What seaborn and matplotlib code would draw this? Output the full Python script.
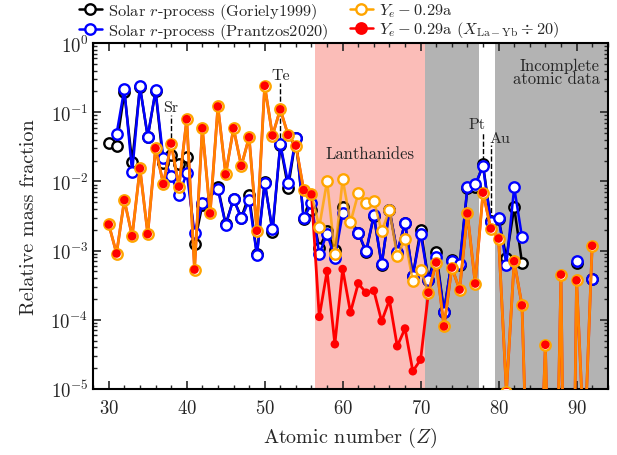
import numpy as np
import pandas as pd
import matplotlib
matplotlib.use("Agg")
import matplotlib.pyplot as plt
import seaborn as sns
from matplotlib.lines import Line2D
from matplotlib.ticker import MultipleLocator, LogLocator, NullFormatter

# Solar r-process (Goriely1999)
z_gor = [30, 31, 32, 33, 34, 35, 36, 37, 38, 39, 40, 41, 42, 44, 45, 46, 47, 48, 49, 50,
         51, 52, 53, 54, 55, 56, 57, 58, 59, 60, 62, 63, 64, 65, 66, 67, 68, 69, 70, 71,
         72, 73, 74, 75, 76, 77, 78, 79, 80, 81, 82, 83, 90, 92]
x_gor = [0.0356, 0.0329, 0.193, 0.0189, 0.23, 0.044, 0.20, 0.0182, 0.0241, 0.0176,
         0.0228, 0.00126, 0.0046, 0.0082, 0.0024, 0.0056, 0.003, 0.0063, 0.00088, 0.0099,
         0.00185, 0.034, 0.0081, 0.042, 0.0029, 0.0038, 0.00109, 0.0019, 0.00101, 0.0043,
         0.00182, 0.00094, 0.0032, 0.00062, 0.0039, 0.00093, 0.0025, 0.00043, 0.00201, 0.00038,
         0.00094, 0.000129, 0.00072, 0.00061, 0.0080, 0.0084, 0.0176, 0.00265, 0.00285, 0.00078,
         0.0042, 0.00067, 0.00067, 0.00039]

# Solar r-process (Prantzos2020)
z_pra = [31, 32, 33, 34, 35, 36, 37, 38, 39, 40, 41, 42, 44, 45, 46, 47, 48, 49, 50,
         51, 52, 53, 54, 55, 56, 57, 58, 59, 60, 62, 63, 64, 65, 66, 67, 68, 69, 70, 71,
         72, 73, 74, 75, 76, 77, 78, 79, 80, 81, 82, 83, 90, 92]
x_pra = [0.0485, 0.218, 0.0135, 0.236, 0.0444, 0.206, 0.0216, 0.0121, 0.00634, 0.0131,
         0.0018, 0.0048, 0.00766, 0.00233, 0.00555, 0.00291, 0.00536, 0.000856, 0.00935,
         0.00202, 0.0344, 0.00957, 0.043, 0.00291, 0.0048, 0.000885, 0.00176, 0.00078, 0.00344,
         0.00182, 0.00098, 0.00325, 0.000634, 0.00384, 0.00096, 0.00252, 0.000425, 0.00176, 0.00037,
         0.00081, 0.000129, 0.00071, 0.000634, 0.00818, 0.00905, 0.0165, 0.0026, 0.00291, 0.000626,
         0.00818, 0.00158, 0.00071, 0.000393]

# Ye - 0.29a model
z_mod = list(range(30, 93))
x_mod = [0.00238, 0.000905, 0.00536, 0.00161, 0.0154, 0.00173, 0.0301, 0.00914, 0.0352, 0.00838,
         0.0792, 0.00053, 0.0586, 0.00344, 0.121, 0.0126, 0.0586, 0.0167, 0.0434, 0.00193,
         0.241, 0.0459, 0.110, 0.0469, 0.0329, 0.00748, 0.00648, 0.0022, 0.0101, 0.000885,
         0.0108, 0.00255, 0.0067, 0.00491, 0.00525, 0.0019, 0.00384, 0.000828, 0.00149, 0.00036,
         0.00053, 0.000246, 0.00067, 0.00008, 0.000567, 0.000272, 0.00344, 0.000333, 0.00686, 0.00208,
         0.00149, 9e-6, 0.0007, 0.000161, 3e-8, 3e-8, 4.34e-5, 1e-9, 0.000449, 1e-12,
         0.000371, 1.3e-6, 0.00117]

# lanthanides La (57) - Yb (70) divided by 20
z_mod_arr = np.array(z_mod)
x_mod20 = np.array(x_mod, dtype=float)
lan = (z_mod_arr >= 57) & (z_mod_arr <= 70)
x_mod20[lan] = x_mod20[lan] / 20.0

labels = [r"Solar $r$-process (Goriely1999)", r"Solar $r$-process (Prantzos2020)",
          r"$Y_e-0.29$a", r"$Y_e-0.29$a ($X_{\rm La-Yb}\div 20$)"]

sns.set_style("ticks")
plt.rcParams['font.family'] = 'serif'
plt.rcParams['font.serif'] = ['cmr10', 'DejaVu Serif']
plt.rcParams['mathtext.fontset'] = 'cm'
plt.rcParams['axes.formatter.use_mathtext'] = True

fig = plt.figure(figsize=(6.17, 4.56), dpi=100)
ax = fig.add_axes([0.151, 0.145, 0.834, 0.7585])

ax.axvspan(56.5, 70.5, color='#fbbdb8', lw=0, zorder=0)
ax.axvspan(70.5, 77.5, color='#b3b3b3', lw=0, zorder=0)
ax.axvspan(79.5, 95, color='#b3b3b3', lw=0, zorder=0)

df_gor = pd.DataFrame({'Z': z_gor, 'X': x_gor})
df_gor['seg'] = np.where(df_gor['Z'] <= 83, 0, df_gor['Z'])
df_pra = pd.DataFrame({'Z': z_pra, 'X': x_pra})
df_pra['seg'] = np.where(df_pra['Z'] <= 83, 0, df_pra['Z'])
df_mod = pd.DataFrame({'Z': z_mod, 'X': x_mod, 'X20': x_mod20})

ms = 7.5
mew = 1.7
sns.lineplot(data=df_gor, x='Z', y='X', units='seg', estimator=None, color='k',
             marker='o', markerfacecolor='white', markeredgecolor='k', markersize=ms,
             markeredgewidth=mew, lw=1.8, zorder=3, ax=ax, legend=False)
sns.lineplot(data=df_pra, x='Z', y='X', units='seg', estimator=None, color='#0000ff',
             marker='o', markerfacecolor='white', markeredgecolor='#0000ff', markersize=ms,
             markeredgewidth=mew, lw=1.8, zorder=4, ax=ax, legend=False)
sns.lineplot(data=df_mod, x='Z', y='X20', estimator=None, color='red', lw=2,
             zorder=5, ax=ax, legend=False)
sns.lineplot(data=df_mod, x='Z', y='X', estimator=None, color='orange', alpha=0.8,
             lw=1.9, zorder=6, ax=ax, legend=False)
sns.lineplot(data=df_mod, x='Z', y='X', estimator=None, color='orange', lw=0,
             marker='o', markerfacecolor='white', markeredgecolor='orange', markersize=ms,
             markeredgewidth=mew, zorder=7, ax=ax, legend=False)
sns.scatterplot(data=df_mod, x='Z', y='X20', color='red', s=38, edgecolor='none',
                zorder=8, ax=ax, legend=False)

ax.set_yscale('log')
ax.set_xlim(28, 94)
ax.set_ylim(1e-5, 1)

# element labels
ax.plot([38, 38], [0.042, 0.09], ls='--', color='k', lw=1, zorder=2)
ax.text(38, 0.095, 'Sr', ha='center', va='bottom', fontsize=11.5)
ax.plot([52, 52], [0.042, 0.26], ls='--', color='k', lw=1, zorder=2)
ax.text(52, 0.27, 'Te', ha='center', va='bottom', fontsize=11.5)
ax.plot([78, 78], [0.0195, 0.052], ls='--', color='k', lw=1, zorder=2)
ax.text(77.2, 0.053, 'Pt', ha='center', va='bottom', fontsize=11.5)
ax.plot([79, 79], [0.0028, 0.033], ls='--', color='k', lw=1, zorder=2)
ax.text(78.8, 0.034, 'Au', ha='left', va='bottom', fontsize=11.5)

ax.text(63.5, 0.0255, 'Lanthanides', ha='center', va='center', fontsize=12)
ax.text(93.0, 0.62, 'Incomplete\natomic data', ha='right', va='top', fontsize=12,
        multialignment='right', linespacing=0.85)

ax.set_xlabel(r'Atomic number ($Z$)', fontsize=14.5, labelpad=6)
ax.set_ylabel('Relative mass fraction', fontsize=14.5, labelpad=9)
ax.xaxis.set_major_locator(MultipleLocator(10))
ax.xaxis.set_minor_locator(MultipleLocator(2))
ax.yaxis.set_major_locator(LogLocator(base=10, numticks=10))
ax.yaxis.set_minor_locator(LogLocator(base=10, subs=np.arange(2, 10), numticks=20))
ax.yaxis.set_minor_formatter(NullFormatter())
ax.tick_params(which='both', direction='in', top=True, right=True, labelsize=13.5)
ax.tick_params(axis='x', pad=7)
ax.tick_params(which='major', length=6, width=1.2)
ax.tick_params(which='minor', length=3, width=1)
for sp in ax.spines.values():
    sp.set_linewidth(1.5)
    sp.set_color('k')

handles = [
    Line2D([], [], color='k', marker='o', mfc='white', mec='k', ms=ms, mew=mew, lw=1.8),
    Line2D([], [], color='#0000ff', marker='o', mfc='white', mec='#0000ff', ms=ms, mew=mew, lw=1.8),
    Line2D([], [], color='orange', marker='o', mfc='white', mec='orange', ms=ms, mew=mew, lw=1.8),
    Line2D([], [], color='red', marker='o', mfc='red', mec='red', ms=ms, mew=mew, lw=1.8),
]
fig.legend(handles, labels, ncol=2, loc='upper left', bbox_to_anchor=(0.125, 1.0),
           frameon=False, fontsize=11.8, handlelength=1.4, handletextpad=0.4,
           columnspacing=1.3, labelspacing=0.0, borderpad=0.1, borderaxespad=0.0)

fig.savefig('out.png', dpi=100)
